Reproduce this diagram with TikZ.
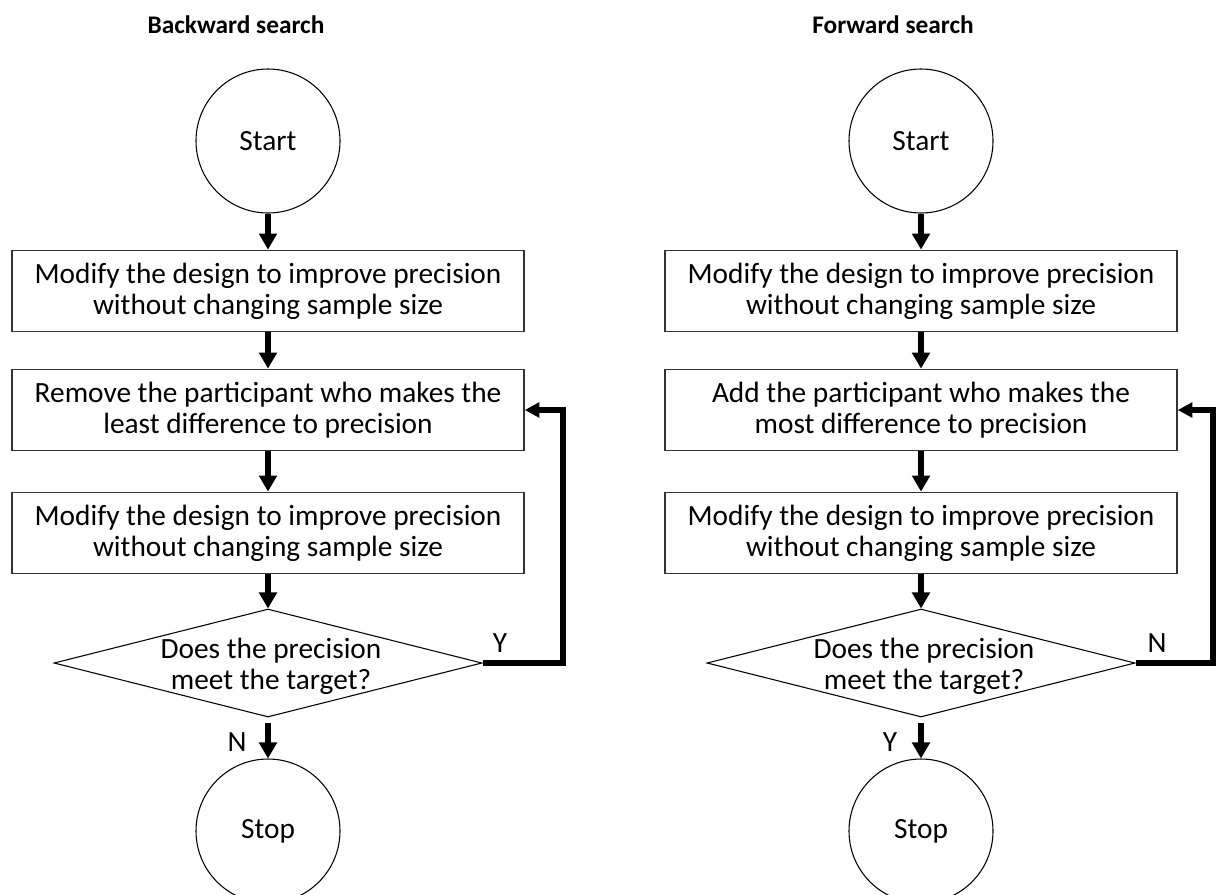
\documentclass[tikz,border=0pt]{standalone}
\usepackage{fontspec}
\setmainfont{Carlito}
\usetikzlibrary{shapes.geometric,arrows.meta}
\begin{document}
\begin{tikzpicture}[x=0.75pt,y=-0.75pt,
  txt/.style={font=\fontsize{22}{23.5}\selectfont, align=center},
  title/.style={font=\fontsize{19}{22}\selectfont\bfseries},
  procbox/.style={txt, draw=black!80, line width=1.1pt, minimum width=384pt, minimum height=61pt, inner sep=0pt},
  term/.style={txt, circle, draw, line width=0.8pt, minimum size=108pt, inner sep=0pt},
  decision/.style={diamond, draw, line width=0.8pt, minimum width=321pt, minimum height=81pt, inner sep=0pt},
  flow/.style={line width=4.5pt, -{Triangle[width=13pt,length=12pt]}},
  loopback/.style={line width=4.5pt, -{Triangle[width=11pt,length=11pt]}}
]
\clip (0,0) rectangle (1216,894);
% ---------- Backward search ----------
\node[title] (tL) at (236,25) {Backward search};
\node[term] (s1) at (268,141) {Start};
\node[procbox] (a1) at (268,291) {Modify the design to improve precision\\without changing sample size};
\node[procbox] (a2) at (268,410) {Remove the participant who makes the\\least difference to precision};
\node[procbox] (a3) at (268,533) {Modify the design to improve precision\\without changing sample size};
\node[decision] (d1) at (268,663) {};
\node[txt] (q1) at (271,666) {Does the precision\\meet the target?};
\node[term] (e1) at (268,831) {Stop};
\coordinate (c1) at (563,663);
\draw[flow] (s1) -- (a1);
\draw[flow] (a1) -- (a2);
\draw[flow] (a2) -- (a3);
\draw[flow] (a3) -- (d1);
\draw[flow, shorten <=4pt] (d1) -- (e1);
\draw[loopback] (d1.east) -- (d1.east -| c1) |- (a2.east);
\node[txt] (y1) at (500,643) {Y};
\node[txt] (n1) at (237,742) {N};
% ---------- Forward search ----------
\node[title] (tR) at (893,25) {Forward search};
\node[term] (s2) at (921,141) {Start};
\node[procbox] (b1) at (921,291) {Modify the design to improve precision\\without changing sample size};
\node[procbox] (b2) at (921,410) {Add the participant who makes the\\most difference to precision};
\node[procbox] (b3) at (921,533) {Modify the design to improve precision\\without changing sample size};
\node[decision] (d2) at (921,663) {};
\node[txt] (q2) at (924,666) {Does the precision\\meet the target?};
\node[term] (e2) at (921,831) {Stop};
\coordinate (c2) at (1213,663);
\draw[flow] (s2) -- (b1);
\draw[flow] (b1) -- (b2);
\draw[flow] (b2) -- (b3);
\draw[flow] (b3) -- (d2);
\draw[flow, shorten <=4pt] (d2) -- (e2);
\draw[loopback] (d2.east) -- (d2.east -| c2) |- (b2.east);
\node[txt] (n2) at (1157,643) {N};
\node[txt] (y2) at (890,742) {Y};
\end{tikzpicture}
\end{document}
